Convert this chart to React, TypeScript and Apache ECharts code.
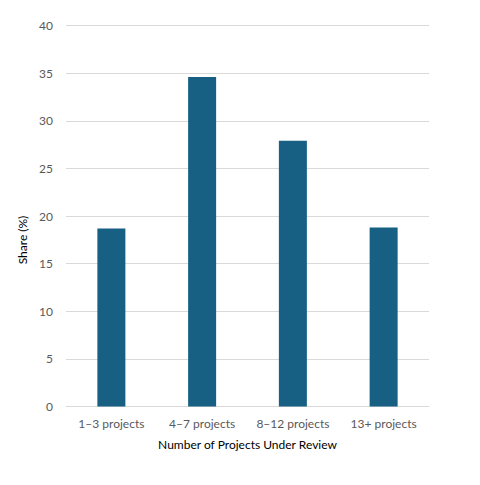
import React, { useEffect, useRef } from "react";
import * as echarts from "echarts";

const categories = ["1–3 projects", "4–7 projects", "8–12 projects", "13+ projects"];
const shares = [18.7, 34.6, 27.9, 18.8];
const yTicks = { min: 0, max: 40, interval: 5 };

export default function App() {
  const ref = useRef<HTMLDivElement>(null);
  useEffect(() => {
    if (!ref.current) return;
    const chart = echarts.init(ref.current, null, { renderer: "svg" });
    const font = "Lato, sans-serif";
    chart.setOption({
      animation: false,
      backgroundColor: "#ffffff",
      grid: { left: 66, right: 51, top: 25.5, bottom: 78.5, containLabel: false },
      xAxis: {
        type: "category",
        data: categories,
        name: "Number of Projects Under Review",
        nameLocation: "middle",
        nameGap: 32,
        nameTextStyle: { color: "#000000", fontSize: 12, fontFamily: font, verticalAlign: "top" },
        axisLine: { show: true, lineStyle: { color: "#d9d9d9", width: 1 } },
        axisTick: { show: false },
        axisLabel: { color: "#595959", fontSize: 12, fontFamily: font, margin: 11, interval: 0 },
      },
      yAxis: {
        type: "value",
        min: yTicks.min,
        max: yTicks.max,
        interval: yTicks.interval,
        name: "Share (%)",
        nameLocation: "middle",
        nameGap: 38,
        nameRotate: 90,
        nameTextStyle: { color: "#000000", fontSize: 12, fontFamily: font, padding: [0, 48, 0, 0] },
        axisLine: { show: false },
        axisTick: { show: false },
        splitLine: { lineStyle: { color: "#d9d9d9", width: 1 } },
        axisLabel: { color: "#595959", fontSize: 12, fontFamily: font, margin: 13 },
      },
      series: [
        {
          type: "bar",
          data: shares,
          barWidth: 28,
          itemStyle: { color: "#175f83" },
        },
      ],
    });
    return () => chart.dispose();
  }, []);
  return <div ref={ref} style={{ width: 480, height: 485, position: "absolute", left: 0, top: 0 }} />;
}
